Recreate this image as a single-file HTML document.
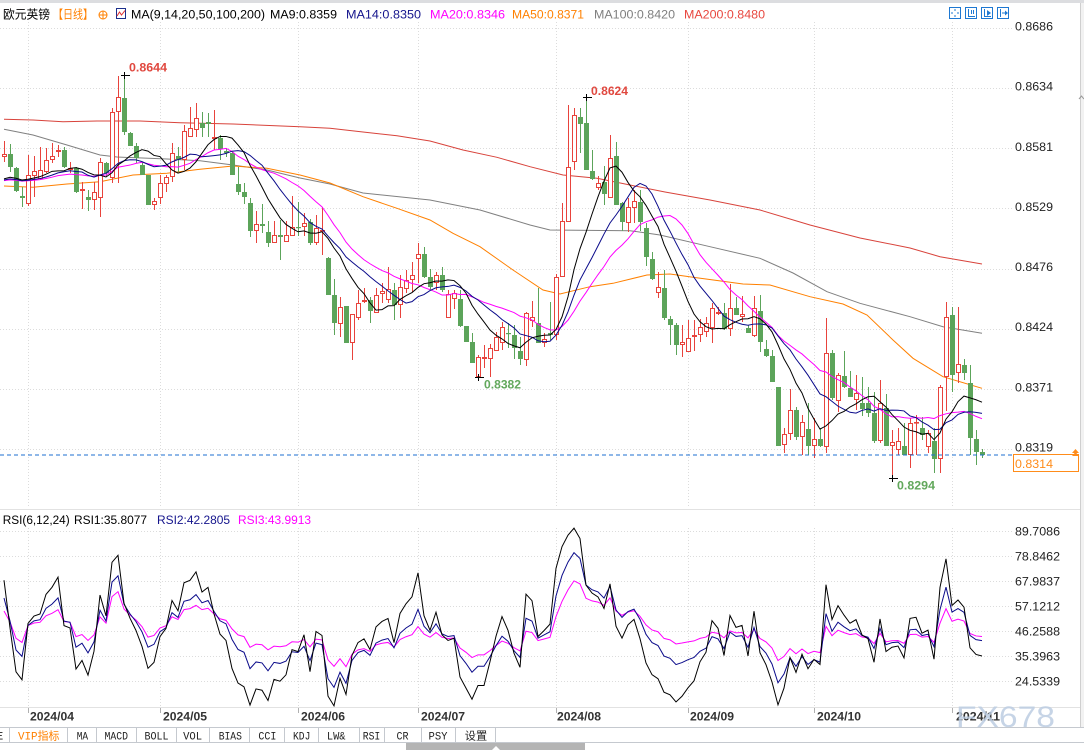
<!DOCTYPE html>
<html><head><meta charset="utf-8">
<style>
html,body{margin:0;padding:0;background:#fff;}
body{width:1084px;height:750px;overflow:hidden;position:relative;}
svg{position:absolute;left:0;top:0;font-family:"Liberation Sans","Noto Sans CJK SC",sans-serif;}
</style></head><body>
<svg id="s" width="1084" height="750" viewBox="0 0 1084 750">
<defs>
<clipPath id="cp"><rect x="0" y="22" width="1012" height="486"/></clipPath>
<clipPath id="cr"><rect x="0" y="522" width="1012" height="185"/></clipPath>
</defs>
<rect x="0" y="0" width="1084" height="750" fill="#fff"/>
<!-- top strip -->
<rect x="0" y="0" width="1084" height="3" fill="#dcdde0"/>
<!-- right scrollbar -->
<rect x="1080" y="3" width="4" height="724" fill="#f2f2f2"/>
<line x1="1080.5" y1="3" x2="1080.5" y2="727" stroke="#cfcfcf"/>
<!-- grids -->
<g id="grid" stroke="#dcdcdc" stroke-dasharray="1,2" stroke-width="1"></g>
<!-- panel separators -->
<line x1="0" y1="509.5" x2="1080" y2="509.5" stroke="#e2e2e2"/>
<line x1="0" y1="707.5" x2="1080" y2="707.5" stroke="#e2e2e2"/>
<g id="ticks" stroke="#b0b0b0"></g>

<!-- long MAs -->
<g clip-path="url(#cp)" fill="none" stroke-width="1">
<polyline stroke="#d8433b" points="4,119.3 33,120 63,121.7 97,121 140,121 180,122.7 233,124 300,126.7 330,128.3 363,132 397,135.7 430,141 463,150 497,157.3 530,166.7 563,175 597,178.3 630,185 665,192 710,200 760,210 810,225 860,238 910,248 940,256.7 982,264"/>
<polyline stroke="#808080" points="4,129.3 33,135 67,145 100,155 117,157 167,159 200,160.7 233,165 267,170 300,178 330,184 363,193 430,200 480,210 530,225 550,230 630,230.7 660,235 710,246.7 760,258.3 793,273 827,291.7 860,303.3 910,316.7 943,326.7 982,333.3"/>
<polyline stroke="#ff8000" points="4,186 33,187.3 67,184 100,181.7 133,175 167,173.3 200,169.3 233,166 267,168.3 300,175 330,183 363,196.7 397,208.3 430,220 453,233.3 480,246.7 513,270 543,290 560,294 590,286.7 613,283.3 647,275 670,274 693,277.3 743,284 770,285 810,296.7 843,304 867,315 893,340 913,358.3 943,376.7 982,388.3"/>
</g>
<g id="cd" clip-path="url(#cp)"></g>
<g id="ma" clip-path="url(#cp)" fill="none" stroke-width="1"></g>
<g id="rsi" clip-path="url(#cr)" fill="none" stroke-width="1"></g>

<!-- current price line -->
<line x1="0" y1="455" x2="1013" y2="455" stroke="#1e6fd0" stroke-dasharray="4,3"/>

<!-- extreme markers -->
<g stroke="#000" stroke-width="1">
<line x1="121" y1="75.5" x2="130" y2="75.5"/><line x1="124.5" y1="72" x2="124.5" y2="79"/>
<line x1="583" y1="97.5" x2="592" y2="97.5"/><line x1="586.5" y1="94" x2="586.5" y2="101"/>
<line x1="475" y1="377.5" x2="484" y2="377.5"/><line x1="478.5" y1="374" x2="478.5" y2="381"/>
<line x1="889" y1="478.5" x2="898" y2="478.5"/><line x1="892.5" y1="475" x2="892.5" y2="482"/>
</g>
<g font-size="12" font-weight="bold">
<text x="129" y="71.5" fill="#e0483f" textLength="38" lengthAdjust="spacingAndGlyphs">0.8644</text>
<text x="591" y="95" fill="#e0483f" textLength="37" lengthAdjust="spacingAndGlyphs">0.8624</text>
<text x="484" y="388.5" fill="#62a85c" textLength="37" lengthAdjust="spacingAndGlyphs">0.8382</text>
<text x="897" y="489.5" fill="#62a85c" textLength="38" lengthAdjust="spacingAndGlyphs">0.8294</text>
</g>

<!-- header -->
<g font-size="12.4">
<text x="3" y="18.5" fill="#000" font-size="12" font-family="Noto Sans CJK SC, sans-serif" textLength="47" lengthAdjust="spacingAndGlyphs">欧元英镑</text>
<text x="53" y="18.5" fill="#ff8000" font-size="12" font-family="Noto Sans CJK SC, sans-serif" textLength="40" lengthAdjust="spacingAndGlyphs">【日线】</text>
<text x="131" y="18.5" fill="#000" textLength="134" lengthAdjust="spacingAndGlyphs">MA(9,14,20,50,100,200)</text>
<text x="270" y="18.5" fill="#000" textLength="67" lengthAdjust="spacingAndGlyphs">MA9:0.8359</text>
<text x="346" y="18.5" fill="#14148c" textLength="75" lengthAdjust="spacingAndGlyphs">MA14:0.8350</text>
<text x="430" y="18.5" fill="#ff00ff" textLength="75" lengthAdjust="spacingAndGlyphs">MA20:0.8346</text>
<text x="512" y="18.5" fill="#ff8000" textLength="72" lengthAdjust="spacingAndGlyphs">MA50:0.8371</text>
<text x="594" y="18.5" fill="#7f7f7f" textLength="81" lengthAdjust="spacingAndGlyphs">MA100:0.8420</text>
<text x="684" y="18.5" fill="#e8473f" textLength="81" lengthAdjust="spacingAndGlyphs">MA200:0.8480</text>
</g>
<!-- header icons -->
<circle cx="103" cy="15" r="4" fill="none" stroke="#ff8000"/>
<line x1="99" y1="15" x2="107" y2="15" stroke="#ff8000"/><line x1="103" y1="11" x2="103" y2="19" stroke="#ff8000"/>
<rect x="116.5" y="8.5" width="9" height="10" fill="#fff" stroke="#1c2f8c"/>
<polyline points="117,16 119.5,12 121.5,15 125,10.5" fill="none" stroke="#e03030"/>
<g stroke="#1e78d2" fill="none">
<rect x="949.5" y="7.5" width="11" height="11"/><rect x="965.5" y="7.5" width="11" height="11"/>
<rect x="981.5" y="7.5" width="11" height="11"/><rect x="997.5" y="7.5" width="11" height="11"/>
<line x1="951" y1="13" x2="953" y2="13"/><line x1="957" y1="13" x2="959" y2="13"/>
<line x1="955" y1="9" x2="955" y2="11"/><line x1="955" y1="15" x2="955" y2="17"/>
<line x1="968.5" y1="9" x2="968.5" y2="17"/><line x1="968" y1="16.5" x2="975" y2="16.5"/><line x1="971.5" y1="10" x2="971.5" y2="14"/><line x1="973.5" y1="10" x2="973.5" y2="14"/>
<line x1="984.5" y1="9" x2="984.5" y2="17"/><line x1="984" y1="16.5" x2="991" y2="16.5"/>
<line x1="1000.5" y1="9" x2="1000.5" y2="17"/><line x1="1002" y1="13" x2="1007" y2="13"/>
</g>
<polygon points="987,10 991,13 987,16" fill="#1e78d2"/>
<polygon points="1005,10.5 1008,13 1005,15.5" fill="#1e78d2"/>

<!-- price axis -->
<g font-size="12.4" fill="#222">
<text x="1015" y="30.6" textLength="38" lengthAdjust="spacingAndGlyphs">0.8686</text>
<text x="1015" y="90.7" textLength="38" lengthAdjust="spacingAndGlyphs">0.8634</text>
<text x="1015" y="150.8" textLength="38" lengthAdjust="spacingAndGlyphs">0.8581</text>
<text x="1015" y="211" textLength="38" lengthAdjust="spacingAndGlyphs">0.8529</text>
<text x="1015" y="271.1" textLength="38" lengthAdjust="spacingAndGlyphs">0.8476</text>
<text x="1015" y="331.2" textLength="38" lengthAdjust="spacingAndGlyphs">0.8424</text>
<text x="1015" y="391.3" textLength="38" lengthAdjust="spacingAndGlyphs">0.8371</text>
<text x="1015" y="451.5" textLength="38" lengthAdjust="spacingAndGlyphs">0.8319</text>
</g>
<rect x="1013.5" y="454.5" width="65" height="17" fill="#fff" stroke="#ff8c1a"/>
<text x="1015" y="468" font-size="12.4" fill="#ff8c1a" textLength="38" lengthAdjust="spacingAndGlyphs">0.8314</text>
<polygon points="1072,453 1075.5,449 1079,453" fill="#ff8c1a"/>
<polygon points="1072,456 1075.5,452 1079,456" fill="#ff8c1a"/>
<polyline points="1079,99 1081.5,96 1084,99" fill="none" stroke="#999"/>

<!-- RSI header -->
<g font-size="12.4">
<text x="2.7" y="524" fill="#000" textLength="67" lengthAdjust="spacingAndGlyphs">RSI(6,12,24)</text>
<text x="74" y="524" fill="#000" textLength="73" lengthAdjust="spacingAndGlyphs">RSI1:35.8077</text>
<text x="157" y="524" fill="#14148c" textLength="73" lengthAdjust="spacingAndGlyphs">RSI2:42.2805</text>
<text x="238" y="524" fill="#ff00ff" textLength="73" lengthAdjust="spacingAndGlyphs">RSI3:43.9913</text>
</g>
<!-- RSI axis -->
<g font-size="12.4" fill="#222">
<text x="1015" y="535.3" textLength="45" lengthAdjust="spacingAndGlyphs">89.7086</text>
<text x="1015" y="560.3" textLength="45" lengthAdjust="spacingAndGlyphs">78.8462</text>
<text x="1015" y="585.3" textLength="45" lengthAdjust="spacingAndGlyphs">67.9837</text>
<text x="1015" y="610.3" textLength="45" lengthAdjust="spacingAndGlyphs">57.1212</text>
<text x="1015" y="635.3" textLength="45" lengthAdjust="spacingAndGlyphs">46.2588</text>
<text x="1015" y="660.3" textLength="45" lengthAdjust="spacingAndGlyphs">35.3963</text>
<text x="1015" y="685.3" textLength="45" lengthAdjust="spacingAndGlyphs">24.5339</text>
</g>

<!-- date axis -->
<g font-size="12" font-weight="bold" fill="#333">
<text x="30" y="720.5" textLength="44" lengthAdjust="spacingAndGlyphs">2024/04</text>
<text x="163" y="720.5" textLength="44" lengthAdjust="spacingAndGlyphs">2024/05</text>
<text x="301" y="720.5" textLength="44" lengthAdjust="spacingAndGlyphs">2024/06</text>
<text x="421" y="720.5" textLength="44" lengthAdjust="spacingAndGlyphs">2024/07</text>
<text x="557" y="720.5" textLength="44" lengthAdjust="spacingAndGlyphs">2024/08</text>
<text x="690" y="720.5" textLength="44" lengthAdjust="spacingAndGlyphs">2024/09</text>
<text x="817" y="720.5" textLength="44" lengthAdjust="spacingAndGlyphs">2024/10</text>
<text x="956" y="720.5" textLength="44" lengthAdjust="spacingAndGlyphs">2024/11</text>
</g>
<text x="956" y="727" font-size="30" fill="#bccde2" fill-opacity="0.85" textLength="99" lengthAdjust="spacingAndGlyphs">FX678</text>

<!-- tab bar -->
<line x1="0" y1="727.5" x2="1084" y2="727.5" stroke="#c5c9cf"/>
<line x1="0" y1="742.5" x2="1084" y2="742.5" stroke="#c5c9cf"/>
<g id="tabsep" stroke="#c5c9cf"></g>
<g font-size="11" font-family="Liberation Mono, Noto Sans CJK SC, monospace" fill="#222" text-anchor="middle">
<text x="38.7" y="739.5" fill="#ff8000" textLength="41.5" lengthAdjust="spacingAndGlyphs">VIP指标</text>
<text x="82.4" y="739.5" textLength="11.4" lengthAdjust="spacingAndGlyphs">MA</text>
<text x="116.2" y="739.5" textLength="23.5" lengthAdjust="spacingAndGlyphs">MACD</text>
<text x="156.5" y="739.5" textLength="24" lengthAdjust="spacingAndGlyphs">BOLL</text>
<text x="192.6" y="739.5" textLength="19" lengthAdjust="spacingAndGlyphs">VOL</text>
<text x="230.3" y="739.5" textLength="23.2" lengthAdjust="spacingAndGlyphs">BIAS</text>
<text x="267.4" y="739.5" textLength="18" lengthAdjust="spacingAndGlyphs">CCI</text>
<text x="301.7" y="739.5" textLength="17.3" lengthAdjust="spacingAndGlyphs">KDJ</text>
<text x="336.2" y="739.5" textLength="18.6" lengthAdjust="spacingAndGlyphs">LW&amp;</text>
<text x="371.5" y="739.5" textLength="17.5" lengthAdjust="spacingAndGlyphs">RSI</text>
<text x="402.5" y="739.5" textLength="12" lengthAdjust="spacingAndGlyphs">CR</text>
<text x="438" y="739.5" textLength="19" lengthAdjust="spacingAndGlyphs">PSY</text>
<text x="476" y="739.5" textLength="22.4" lengthAdjust="spacingAndGlyphs">设置</text>
</g>
<text x="-4" y="739.5" font-size="11" fill="#222">Ξ</text>
<!-- bottom scrollbar -->
<rect x="406" y="743" width="179" height="7" fill="#b4b4b4"/>
<polygon points="492,750 496,746 500,750" fill="#fff"/>
</svg>
<script>
(function(){
var D=[[157,154,141,162],[154,167,144,172],[168,191,167,192],[196,198,187,207],[204,175,155,206],[176,171,156,197],[179,170,147,180],[172,160,148,173],[160,156,143,163],[152,150,145,157],
[150,167,147,168],[170,168,162,173],[168,192,167,193],[191,189,182,209],[197,200,190,211],[200,192,182,210],[198,162,158,217],[163,173,162,177],[178,112,108,183],[112,97,76,183],
[98,132,75,135],[133,146,132,146],[146,158,143,163],[165,175,162,175],[175,205,175,205],[205,201,198,210],[198,183,175,204],[184,177,175,192],[177,153,143,182],[156,160,147,172],
[160,131,125,170],[137,128,107,137],[130,118,103,137],[123,128,112,137],[122,124,113,137],[139,137,110,150],[138,149,135,160],[151,153,148,157],[153,175,152,175],[184,192,167,195],
[192,197,183,204],[203,231,198,237],[231,224,211,243],[224,226,204,233],[232,243,221,247],[243,235,221,243],[235,237,220,260],[242,235,221,242],[236,227,196,236],[227,228,202,236],
[227,223,213,236],[222,243,219,245],[243,228,215,245],[231,230,207,255],[258,295,257,295],[295,323,279,335],[324,307,297,337],[306,343,306,343],[343,314,314,360],[318,303,290,320],
[302,300,288,303],[300,311,297,323],[313,295,288,313],[294,291,283,303],[300,289,267,303],[290,305,283,320],[305,287,275,318],[289,280,270,293],[280,275,262,292],[259,254,243,283],
[254,277,247,278],[277,287,269,290],[283,275,272,290],[275,290,267,292],[318,294,290,318],[299,293,290,309],[299,326,290,327],[326,342,326,342],[342,363,333,363],[377,357,355,377],
[359,357,345,368],[359,348,344,377],[351,337,332,351],[343,327,322,350],[333,334,323,348],[335,348,325,359],[351,359,337,365],[360,313,312,366],[321,317,301,327],[323,343,288,343],
[343,339,333,347],[333,335,302,340],[335,277,274,340],[277,221,203,277],[222,167,105,222],[162,115,108,170],[117,124,108,153],[123,170,97,170],[171,179,150,180],[188,183,176,190],
[182,194,166,205],[198,158,135,198],[156,205,142,205],[203,222,202,231],[223,207,198,232],[208,201,190,223],[202,222,190,231],[228,257,223,266],[259,279,252,280],[293,287,272,298],
[288,318,270,320],[319,325,316,345],[325,345,323,355],[345,342,325,357],[352,338,320,352],[337,335,320,351],[335,327,319,342],[332,323,317,337],[328,308,303,343],[314,312,307,315],
[313,329,303,330],[329,308,284,336],[308,315,297,315],[317,314,296,322],[328,333,325,333],[336,308,296,337],[311,342,295,352],[349,356,340,357],[356,382,350,382],[387,446,387,446],
[445,434,428,453],[434,410,389,440],[410,437,407,440],[437,422,415,455],[429,446,403,455],[446,439,418,458],[439,446,428,447],[447,353,318,453],[353,398,350,400],[401,375,373,412],
[376,387,351,388],[388,397,371,397],[400,393,375,410],[403,409,377,416],[403,413,387,417],[413,441,392,443],[441,403,380,443],[408,446,394,446],[446,442,430,478],[450,441,428,455],
[446,455,423,455],[455,423,418,468],[423,422,415,455],[428,435,417,440],[447,433,430,453],[441,459,428,473],[459,387,385,473],[377,317,302,411],[315,375,307,392],[373,364,307,383],
[365,373,359,380],[383,438,365,455],[439,452,430,465],[452,455,449,458]];
var R="#e8433c",G="#5ca45a";
var h="";
D.forEach(function(d,i){
  var x=4+6*i,o=d[0],c=d[1],hi=d[2],lo=d[3];
  var top=Math.min(o,c),bot=Math.max(o,c);
  if(c<o){
    h+='<line x1="'+(x+.5)+'" y1="'+hi+'" x2="'+(x+.5)+'" y2="'+top+'" stroke="'+R+'"/>';
    h+='<line x1="'+(x+.5)+'" y1="'+bot+'" x2="'+(x+.5)+'" y2="'+lo+'" stroke="'+R+'"/>';
    h+='<rect x="'+(x-1.5)+'" y="'+(top+.5)+'" width="4" height="'+Math.max(bot-top-1,0.6)+'" fill="#fff" stroke="'+R+'"/>';
  }else{
    h+='<line x1="'+(x+.5)+'" y1="'+hi+'" x2="'+(x+.5)+'" y2="'+lo+'" stroke="'+G+'"/>';
    h+='<rect x="'+(x-2)+'" y="'+top+'" width="5" height="'+Math.max(bot-top,1.2)+'" fill="'+G+'"/>';
  }
});
document.getElementById("cd").innerHTML=h;
var C=D.map(function(d){return d[1];});
function ma(n){var p=[];for(var i=0;i<C.length;i++){var s=0;for(var j=i-n+1;j<=i;j++){s+=(j<0?182:C[j]);}p.push((4+6*i)+","+(s/n).toFixed(2));}return p.join(" ");}
var m="";
m+='<polyline stroke="#ff00ff" points="'+ma(20)+'"/>';
m+='<polyline stroke="#0a0a8a" points="'+ma(14)+'"/>';
m+='<polyline stroke="#000" points="'+ma(9)+'"/>';
document.getElementById("ma").innerHTML=m;
function rsi(N,r){var A=6,up=r*A,ab=A,prev=160,p=[];
  for(var i=0;i<C.length;i++){var ch=prev-C[i];up=(Math.max(ch,0)+(N-1)*up)/N;ab=(Math.abs(ch)+(N-1)*ab)/N;prev=C[i];
    var v=ab>0?up/ab*100:50;var y=531+(89.7086-v)*2.3016;p.push((4+6*i)+","+y.toFixed(2));}
  return p.join(" ");}
var s="";
s+='<polyline stroke="#ff00ff" points="'+rsi(24,0.53)+'"/>';
s+='<polyline stroke="#0a0a8a" points="'+rsi(12,0.57)+'"/>';
s+='<polyline stroke="#000" points="'+rsi(6,0.62)+'"/>';
document.getElementById("rsi").innerHTML=s;
var g="";
for(var k=0;k<8;k++){var y=(28+60.14*k);y=Math.round(y)+.5;g+='<line x1="0" y1="'+y+'" x2="1012" y2="'+y+'"/>';}
for(var k=0;k<7;k++){var y=531+25*k+.5;g+='<line x1="0" y1="'+y+'" x2="1012" y2="'+y+'"/>';}
[28,160,298,418,556,688,814,952].forEach(function(x){g+='<line x1="'+(x+.5)+'" y1="22" x2="'+(x+.5)+'" y2="507"/><line x1="'+(x+.5)+'" y1="528" x2="'+(x+.5)+'" y2="707"/>';});
document.getElementById("grid").innerHTML=g;
var t="";
[28,160,298,418,556,688,814,952].forEach(function(x){t+='<line x1="'+(x+.5)+'" y1="708" x2="'+(x+.5)+'" y2="713"/>';});
document.getElementById("ticks").innerHTML=t;
var ts="";
[9,67,96,136,176,209,249,284,318,359,384,421,455,495].forEach(function(x){ts+='<line x1="'+(x+.5)+'" y1="727" x2="'+(x+.5)+'" y2="743"/>';});
document.getElementById("tabsep").innerHTML=ts;
})();
</script>
</body></html>
